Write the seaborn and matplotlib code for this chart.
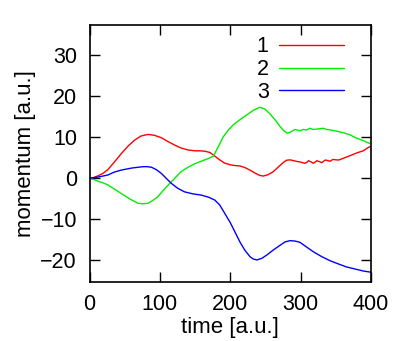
import pandas as pd
import seaborn as sns
import matplotlib
matplotlib.use("Agg")
import matplotlib.pyplot as plt

# curve 1 (red)
t1 = [0, 6, 12, 19, 26, 35, 45, 55, 64, 73, 83, 92, 102, 111, 121, 130, 140, 150, 157, 164, 171,
      178, 185, 192, 200, 207, 214, 221, 228, 236, 242, 247, 254, 261, 268, 275, 280, 285, 290, 295,
      299, 303, 306, 309, 311, 315, 318, 321, 323, 327, 330, 333, 335, 339, 342, 344, 346, 350, 354,
      358, 361, 370, 380, 389, 396, 400]
p1 = [0, 0.2, 0.6, 1.2, 2.1, 3.9, 6.0, 7.9, 9.3, 10.3, 10.7, 10.5, 9.9, 9.0, 8.1, 7.4, 6.9, 6.7, 6.7, 6.6, 6.3,
      5.4, 4.5, 3.7, 3.3, 3.1, 3.0, 2.6, 2.0, 1.2, 0.7, 0.55, 0.9, 1.6, 2.7, 3.8, 4.4, 4.5, 4.3, 4.1,
      4.0, 3.8, 3.66, 3.9, 4.3, 4.0, 3.66, 4.0, 4.3, 4.05, 3.8, 4.2, 4.46, 4.3, 4.15, 4.4, 4.6, 4.5, 4.46,
      4.7, 4.9, 5.5, 6.2, 6.7, 7.5, 7.8]

# curve 2 (green)
t2 = [0, 6, 12, 19, 26, 35, 45, 57, 69, 76, 83, 90, 97, 104, 112, 121, 130, 140, 149, 157, 164, 170,
      176, 183, 190, 197, 204, 213, 223, 233, 242, 249, 256, 264, 271, 276, 281, 286, 292, 299, 304,
      309, 313, 318, 323, 328, 332, 337, 342, 351, 361, 370, 380, 389, 395, 400]
p2 = [0, -0.3, -0.7, -1.1, -1.6, -2.6, -3.7, -5.0, -6.1, -6.2, -6.1, -5.4, -4.5, -3.1, -1.6, 0.0, 1.6, 2.7, 3.5, 4.05, 4.5, 4.9,
      5.4, 7.7, 10.1, 11.7, 13.0, 14.2, 15.4, 16.6, 17.3, 16.9, 15.8, 14.2, 12.6, 11.6, 11.0, 11.3, 11.9, 11.6, 11.9,
      11.8, 12.2, 11.9, 12.0, 12.1, 12.2, 11.9, 11.8, 11.5, 11.1, 10.6, 9.75, 9.2, 8.7, 8.4]

# curve 3 (blue)
t3 = [0, 12, 26, 35, 45, 60, 74, 81, 88, 95, 102, 109, 116, 125, 135, 147, 159, 169, 178, 185, 192,
      200, 207, 214, 221, 228, 233, 238, 245, 252, 261, 271, 278, 285, 292, 299, 308, 318, 330, 342,
      354, 365, 377, 389, 400]
p3 = [0, 0.3, 0.8, 1.5, 2.0, 2.5, 2.8, 2.85, 2.7, 2.1, 1.2, 0.0, -1.2, -2.4, -3.3, -3.8, -4.1, -4.6, -5.3, -6.5, -8.5,
      -10.8, -13.2, -15.6, -17.6, -19.1, -19.7, -19.9, -19.5, -18.7, -17.5, -16.3, -15.5, -15.2, -15.3, -15.6, -16.7, -17.9, -19.1, -20.1,
      -20.9, -21.6, -22.1, -22.6, -22.9]

labels = ["1", "2", "3"]
colors = ["#ff0000", "#00ee00", "#0000ff"]

sns.set_style("ticks")
plt.rcParams["font.family"] = ["Liberation Sans", "DejaVu Sans"]
plt.rcParams.update({"text.color": "black", "axes.labelcolor": "black", "xtick.color": "black",
                     "ytick.color": "black", "axes.edgecolor": "black"})

fig = plt.figure(figsize=(4.07, 3.41), dpi=100)
ax = fig.add_axes([0.22, 0.174, 0.6915, 0.753])

for t, p, lab, c in zip([t1, t2, t3], [p1, p2, p3], labels, colors):
    df = pd.DataFrame({"time": t, "momentum": p})
    sns.lineplot(data=df, x="time", y="momentum", sort=False, color=c, lw=1, label=lab, ax=ax)

ax.set_xlim(0, 400)
ax.set_ylim(-25.2, 37.4)
ax.set_xticks([0, 100, 200, 300, 400])
ax.set_yticks([-20, -10, 0, 10, 20, 30])
ax.tick_params(direction="in", length=7, width=1, top=True, right=True, labelsize=15.5, pad=9)
for s in ax.spines.values():
    s.set_linewidth(1.2)
ax.set_xlabel("time [a.u.]", fontsize=16, labelpad=1)
ax.set_ylabel("momentum [a.u.]", fontsize=16, labelpad=3)

ax.legend(loc="upper right", bbox_to_anchor=(0.904, 0.955), frameon=False, markerfirst=False,
          handlelength=3.0, handletextpad=0.5, labelspacing=0.08, borderpad=0, borderaxespad=0,
          fontsize=15.5)

fig.savefig("out.png", dpi=100)
